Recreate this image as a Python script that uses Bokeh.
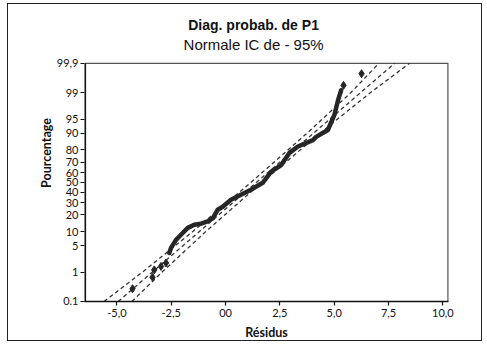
from statistics import NormalDist
from bokeh.plotting import figure
from bokeh.models import Range1d, FixedTicker, Label
from bokeh.embed import file_html
from bokeh.resources import INLINE

nd = NormalDist()


def to_z(pcts):
    return [nd.inv_cdf(v / 100.0) for v in pcts]


# Dense part of the residual curve
curve_resid = [-2.59, -2.51, -2.28, -2.05, -1.74, -1.44, -1.13, -0.82, -0.59,
               -0.36, -0.13, 0.25, 0.71, 1.17, 1.32, 1.71, 2.10, 2.56, 2.93,
               3.33, 4.02, 4.17, 4.71, 5.01, 5.17, 5.32]
curve_pct = [3.36, 4.46, 6.8, 8.7, 11.9, 13.6, 14.2, 15.6, 17.6,
             23.9, 26.4, 32.6, 37.4, 42.5, 44.4, 49.6, 61.0, 67.4, 77.6,
             82.4, 86.4, 88.1, 91.3, 96.0, 98.3, 99.16]

# Isolated points in the tails
low_resid = [-4.28, -3.36, -3.28, -2.97, -2.74]
low_pct = [0.29, 0.69, 1.16, 1.46, 1.83]
high_resid = [5.43, 6.26]
high_pct = [99.41, 99.76]

# Fitted line and 95% confidence bands
fit_pct = [0.1, 99.9]
fit_resid = [-4.94, 7.78]
band_pct = [0.1, 1, 10, 50, 90, 99, 99.9]
band_left = [-5.59, -3.82, -1.52, 1.17, 3.76, 5.76, 7.06]
band_right = [-4.31, -2.92, -0.92, 1.67, 4.36, 6.66, 8.47]

# Axis ticks
y_tick_pct = [0.1, 1, 5, 10, 20, 30, 40, 50, 60, 70, 80, 90, 95, 99, 99.9]
y_tick_labels = ["0.1", "1", "5", "10", "20", "30", "40", "50", "60", "70",
                 "80", "90", "95", "99", "99,9"]
x_ticks = [-5.0, -2.5, 0.0, 2.5, 5.0, 7.5, 10.0]
x_tick_labels = ["-5,0", "-2,5", "00", "2,5", "5,0", "7,5", "10,0"]

title_text = "Diag. probab. de P1"
subtitle_text = "Normale IC de - 95%"

ink = "#262626"
dash_col = "#333333"

x_min, x_max = -6.49, 10.26
z_bot = nd.inv_cdf(0.001)
z_top = nd.inv_cdf(0.999)
head = 1.5256          # room above 99.9 % for the titles (in z units)
px = 38.67             # pixels per z unit

p = figure(width=475, height=338, output_backend="svg", toolbar_location=None,
           x_range=Range1d(x_min, x_max),
           y_range=Range1d(z_bot - 1e-6, z_top + head),
           min_border_left=76, min_border_right=35, min_border_top=0,
           min_border_bottom=40, title=None)
p.styles = {"border": "1px solid #222", "margin": "3px 0px 0px 7px"}
p.background_fill_color = "white"
p.border_fill_color = "white"
p.outline_line_color = None
p.grid.visible = False

# plot box: top and right edges (thin grey), left axis line (black)
p.line([x_min, x_max], [z_top, z_top], line_color="#555555", line_width=1.2)
p.line([x_max, x_max], [z_bot, z_top], line_color="#555555", line_width=2.4)
p.line([x_min, x_min], [z_bot, z_top], line_color="#111111", line_width=3.2)

# titles
p.add_layout(Label(x=1.29, y=z_top + head - 21 / px, text=title_text,
                   text_align="center", text_baseline="middle",
                   text_font="Liberation Sans", text_font_size="14px",
                   text_font_style="bold", text_color="#111111"))
p.add_layout(Label(x=1.29, y=z_top + head - 40 / px, text=subtitle_text,
                   text_align="center", text_baseline="middle",
                   text_font="Liberation Sans", text_font_size="15px",
                   text_color="#111111"))

# confidence bands and fit
p.line(band_left, to_z(band_pct), line_color=dash_col, line_width=1.3, line_dash="4 3")
p.line(band_right, to_z(band_pct), line_color=dash_col, line_width=1.3, line_dash="4 3")
p.line(fit_resid, to_z(fit_pct), line_color=dash_col, line_width=1.3, line_dash="4 3")

# data
p.line(curve_resid, to_z(curve_pct), line_color=ink, line_width=4.5,
       line_join="round", line_cap="round")
p.scatter(low_resid, to_z(low_pct), marker="diamond", size=8, color=ink)
p.scatter(high_resid, to_z(high_pct), marker="diamond", size=8, color=ink)

# axes
tick_font = "Lato"
p.xaxis.ticker = FixedTicker(ticks=x_ticks)
p.xaxis.major_label_overrides = dict(zip(x_ticks, x_tick_labels))
p.yaxis.ticker = FixedTicker(ticks=to_z(y_tick_pct))
p.yaxis.major_label_overrides = dict(zip(to_z(y_tick_pct), y_tick_labels))
for ax in (p.xaxis[0], p.yaxis[0]):
    ax.axis_line_color = "#111111"
    ax.axis_line_width = 1.6
    ax.major_tick_line_color = "#111111"
    ax.major_tick_line_width = 1.2
    ax.major_tick_out = 4
    ax.major_tick_in = 0
    ax.minor_tick_line_color = None
    ax.major_label_text_font = tick_font
    ax.major_label_text_font_size = "11px"
    ax.major_label_text_color = "#111111"
    ax.axis_label_text_font = tick_font
    ax.axis_label_text_font_size = "12.5px"
    ax.axis_label_text_font_style = "bold"
    ax.axis_label_text_color = "#111111"
p.yaxis.axis_line_color = None
p.xaxis.axis_label = "Résidus"
p.yaxis.axis_label = "Pourcentage"
p.xaxis.major_label_standoff = 3
p.xaxis.axis_label_standoff = 5
p.yaxis.major_label_standoff = 2
p.yaxis.axis_label_standoff = 0

open("out.html", "w").write(file_html(p, INLINE))
